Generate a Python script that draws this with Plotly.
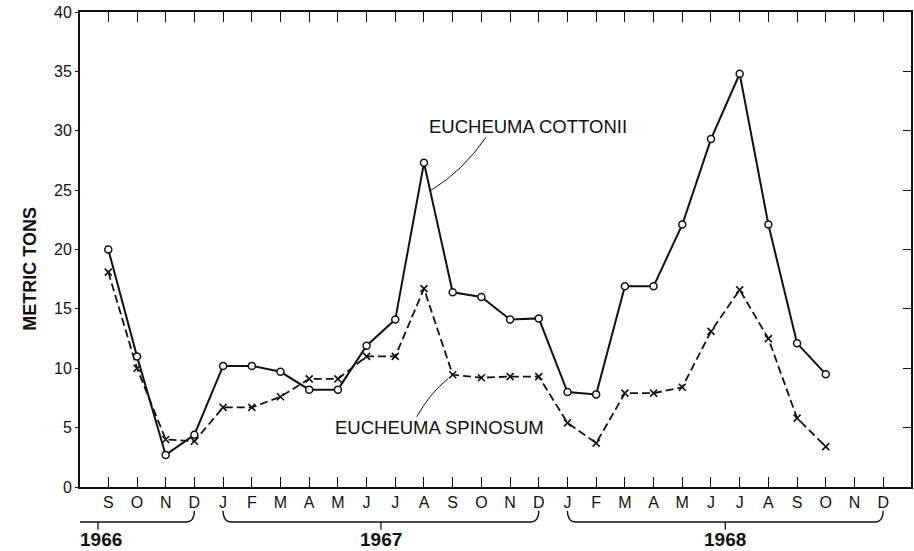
import plotly.graph_objects as go

# ---- data ----
month_labels = ["S", "O", "N", "D",
                "J", "F", "M", "A", "M", "J", "J", "A", "S", "O", "N", "D",
                "J", "F", "M", "A", "M", "J", "J", "A", "S", "O", "N", "D"]
years = ["1966", "1967", "1968"]
cottonii = [20.0, 11.0, 2.7, 4.4, 10.2, 10.2, 9.7, 8.2, 8.2, 11.9, 14.1, 27.3,
            16.4, 16.0, 14.1, 14.2, 8.0, 7.8, 16.9, 16.9, 22.1, 29.3, 34.8, 22.1,
            12.1, 9.5]
spinosum = [18.1, 10.0, 4.0, 3.85, 6.7, 6.7, 7.6, 9.1, 9.1, 11.0, 11.0, 16.7,
            9.45, 9.2, 9.3, 9.3, 5.4, 3.7, 7.9, 7.9, 8.4, 13.1, 16.6, 12.5,
            5.8, 3.4]
y_ticks = [0, 5, 10, 15, 20, 25, 30, 35, 40]

FONT = "Liberation Sans, Arial, sans-serif"
INK = "#111111"

x_idx = list(range(len(cottonii)))

fig = go.Figure()

fig.add_trace(go.Scatter(
    x=x_idx, y=spinosum, mode="lines+markers", name="EUCHEUMA SPINOSUM",
    line=dict(color=INK, width=1.8, dash="8px,4px"),
    marker=dict(symbol="x-thin-open", size=7, color=INK,
                line=dict(color=INK, width=1.6)),
    showlegend=False))

fig.add_trace(go.Scatter(
    x=x_idx, y=cottonii, mode="lines+markers", name="EUCHEUMA COTTONII",
    line=dict(color=INK, width=2),
    marker=dict(symbol="circle", size=7, color="white",
                line=dict(color=INK, width=1.5)),
    showlegend=False))

# dummy trace to display right-hand axis with inward ticks
fig.add_trace(go.Scatter(x=[None], y=[None], yaxis="y2", showlegend=False,
                         hoverinfo="skip"))

fig.update_layout(
    width=914, height=551,
    margin=dict(l=80, r=3, t=12, b=64),
    paper_bgcolor="white", plot_bgcolor="white",
    font=dict(family=FONT, color=INK),
    xaxis=dict(
        range=[-0.986, 27.97],
        tickvals=list(range(len(month_labels))), ticktext=month_labels,
        ticks="inside", ticklen=10, tickwidth=1.3, tickcolor=INK,
        showline=True, linecolor=INK, linewidth=2, mirror="ticks",
        showgrid=False, zeroline=False,
        tickfont=dict(size=16, family=FONT, color=INK),
    ),
    yaxis=dict(
        range=[0, 40], tickvals=y_ticks,
        ticks="outside", ticklen=3, tickwidth=1.3, tickcolor=INK,
        showline=True, linecolor=INK, linewidth=2,
        showgrid=False, zeroline=False,
        tickfont=dict(size=16, family=FONT, color=INK),
    ),
    yaxis2=dict(
        range=[0, 40], tickvals=y_ticks, overlaying="y", side="right",
        ticks="inside", ticklen=8, tickwidth=1.3, tickcolor=INK,
        showline=True, linecolor=INK, linewidth=2,
        showticklabels=False, showgrid=False, zeroline=False,
    ),
)

# axis title
fig.add_annotation(text="<b>METRIC TONS</b>", xref="paper", yref="paper",
                   x=-0.0755, y=0.46, textangle=-90, showarrow=False,
                   font=dict(size=18, family=FONT, color=INK))

# series labels
fig.add_annotation(text="EUCHEUMA COTTONII", xref="x", yref="y",
                   x=11.1, y=30.36, xanchor="left", yanchor="middle",
                   showarrow=False, font=dict(size=18.5, family=FONT, color=INK))
fig.add_annotation(text="EUCHEUMA SPINOSUM", xref="x", yref="y",
                   x=7.83, y=5.05, xanchor="left", yanchor="middle",
                   showarrow=False, font=dict(size=18.5, family=FONT, color=INK))

# leader lines
fig.add_shape(type="path", xref="x", yref="y",
              path="M 13.16,29.45 Q 12.35,26.6 11.24,24.98",
              line=dict(color=INK, width=1))
fig.add_shape(type="path", xref="x", yref="y",
              path="M 10.75,5.91 Q 11.2,7.9 11.85,9.14",
              line=dict(color=INK, width=1))

# year braces
yt, yb, ytk = -0.050, -0.0737, -0.090
r = 0.3
# 1966: from left edge to D (index 3)
fig.add_shape(type="path", xref="x", yref="paper",
              path=f"M -0.986,{yb} L {3 - r},{yb} Q 3,{yb} 3,{yt}",
              line=dict(color=INK, width=1.3))
fig.add_shape(type="line", xref="x", yref="paper", x0=-0.36, x1=-0.36,
              y0=yb, y1=ytk, line=dict(color=INK, width=1.3))
# 1967 and 1968
for a, b in [(4, 15), (16, 27)]:
    fig.add_shape(type="path", xref="x", yref="paper",
                  path=(f"M {a},{yt} Q {a},{yb} {a + r},{yb} "
                        f"L {b - r},{yb} Q {b},{yb} {b},{yt}"),
                  line=dict(color=INK, width=1.3))
    c = (a + b) / 2
    fig.add_shape(type="line", xref="x", yref="paper", x0=c, x1=c,
                  y0=yb, y1=ytk, line=dict(color=INK, width=1.3))

year_x = [-0.25, 9.5, 21.5]
for yr, xv in zip(years, year_x):
    fig.add_annotation(text=f"<b>{yr}</b>", xref="x", yref="paper",
                       x=xv, y=-0.1095, yanchor="middle", showarrow=False,
                       font=dict(size=19, family=FONT, color=INK))

fig.write_html("out.html",
               config={"displayModeBar": False},
               post_script="document.body.style.margin='0';"
                           "document.body.style.overflow='hidden';")
